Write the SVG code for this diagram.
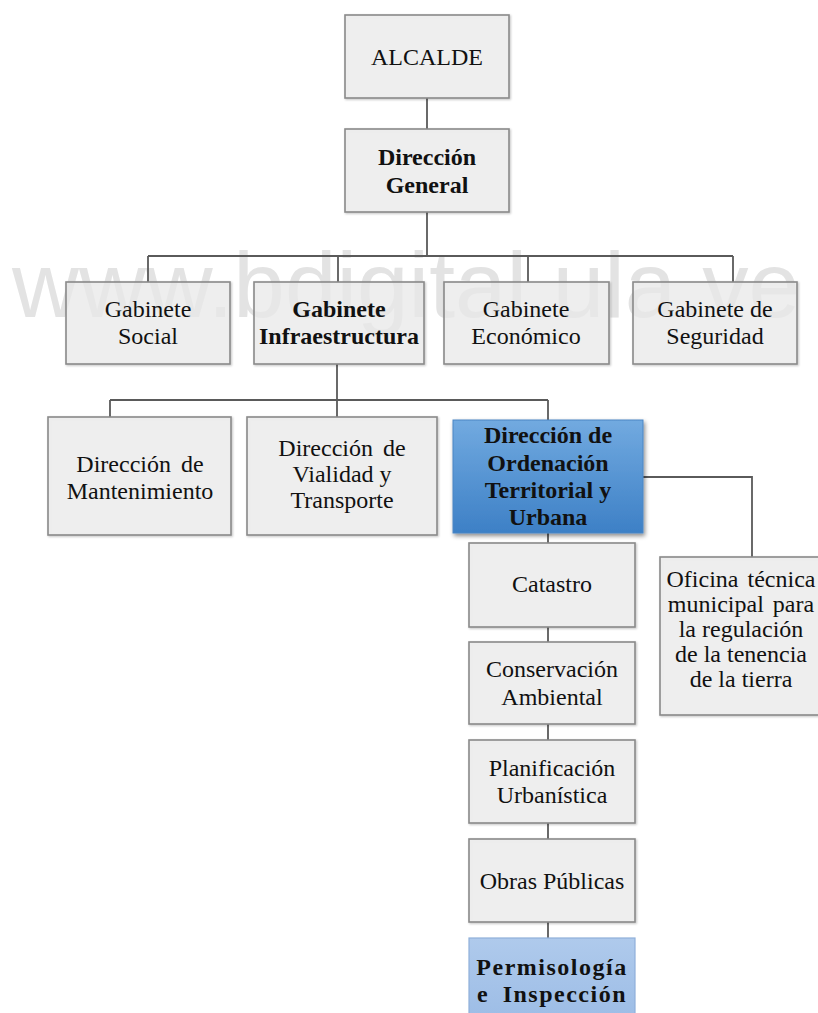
<svg xmlns="http://www.w3.org/2000/svg" width="818" height="1013" viewBox="0 0 818 1013">
<style>
.box{fill:#efefef;fill-opacity:0.7;stroke:#8a8a8a;stroke-width:1.6;filter:url(#sh)}
.t{font-family:"Liberation Serif","Times New Roman",serif;font-size:24px;fill:#111;text-anchor:middle}
.b{font-weight:bold}
.c{fill:none;stroke:#5a5a5a;stroke-width:1.8}
.wm{font-family:"Liberation Sans",Arial,sans-serif;font-size:92px;fill:#e3e3e3}
</style>
<defs>
<linearGradient id="blue" x1="0" y1="0" x2="0" y2="1">
<stop offset="0" stop-color="#72aae0"/>
<stop offset="1" stop-color="#3d80c6"/>
</linearGradient>
<linearGradient id="lblue" x1="0" y1="0" x2="0" y2="1">
<stop offset="0" stop-color="#afcaec"/>
<stop offset="1" stop-color="#9dbde6"/>
</linearGradient>
<filter id="sh" x="-10%" y="-10%" width="125%" height="125%">
<feDropShadow dx="1" dy="1" stdDeviation="0.8" flood-color="#000" flood-opacity="0.25"/>
</filter>
<filter id="sh2" x="-10%" y="-10%" width="125%" height="125%">
<feDropShadow dx="1.5" dy="2.5" stdDeviation="2" flood-color="#000" flood-opacity="0.45"/>
</filter>
</defs>
<rect width="818" height="1013" fill="#fff"/>
<text class="wm" x="12" y="317" textLength="788" lengthAdjust="spacingAndGlyphs">www.bdigital.ula.ve</text>
<g id="connectors">
<path class="c" d="M427 98V129M427 212V256M148 256H733M148 256V282M338 256V282M528 256V282M733 256V282"/>
<path class="c" d="M337 364V417M110 400H548M110 400V417M548 400V420"/>
<path class="c" d="M643 477H752V557"/>
<path class="c" d="M548 533V543M548 627V642M548 724V740M548 823V839M548 922V938"/>
</g>
<g id="alcalde"><rect class="box" x="345" y="15" width="164" height="83"/><text class="t" x="427" y="65">ALCALDE</text></g>
<g id="direccion-general"><rect class="box" x="345" y="129" width="164" height="83"/><text class="t b" x="427" y="165">Dirección</text><text class="t b" x="427" y="193">General</text></g>
<g id="gabinete-social"><rect class="box" x="66" y="282" width="164" height="82"/><text class="t" x="148" y="317">Gabinete</text><text class="t" x="148" y="344">Social</text></g>
<g id="gabinete-infraestructura"><rect class="box" x="254" y="282" width="170" height="82"/><text class="t b" x="339" y="317">Gabinete</text><text class="t b" x="339" y="344">Infraestructura</text></g>
<g id="gabinete-economico"><rect class="box" x="444" y="282" width="165" height="82"/><text class="t" x="526" y="317">Gabinete</text><text class="t" x="526" y="344">Económico</text></g>
<g id="gabinete-seguridad"><rect class="box" x="633" y="282" width="164" height="82"/><text class="t" x="715" y="317">Gabinete de</text><text class="t" x="715" y="344">Seguridad</text></g>
<g id="direccion-mantenimiento"><rect class="box" x="48" y="417" width="183" height="118"/><text class="t" x="140" y="472" word-spacing="4">Dirección de</text><text class="t" x="140" y="499">Mantenimiento</text></g>
<g id="direccion-vialidad"><rect class="box" x="247" y="417" width="190" height="118"/><text class="t" x="342" y="456" word-spacing="4">Dirección de</text><text class="t" x="342" y="482">Vialidad y</text><text class="t" x="342" y="508">Transporte</text></g>
<g id="direccion-ordenacion"><rect x="453" y="420" width="190" height="113" fill="url(#blue)" stroke="#4a86c4" stroke-width="1" filter="url(#sh2)"/><text class="t b" x="548" y="443">Dirección de</text><text class="t b" x="548" y="471">Ordenación</text><text class="t b" x="548" y="498">Territorial y</text><text class="t b" x="548" y="525">Urbana</text></g>
<g id="oficina-tecnica"><rect class="box" x="660" y="557" width="165" height="158"/><text class="t" x="741" y="587" word-spacing="3">Oficina técnica</text><text class="t" x="741" y="612" word-spacing="3">municipal para</text><text class="t" x="741" y="637">la regulación</text><text class="t" x="741" y="662">de la tenencia</text><text class="t" x="741" y="687">de la tierra</text></g>
<g id="catastro"><rect class="box" x="469" y="543" width="166" height="84"/><text class="t" x="552" y="592">Catastro</text></g>
<g id="conservacion"><rect class="box" x="469" y="642" width="166" height="82"/><text class="t" x="552" y="677">Conservación</text><text class="t" x="552" y="705">Ambiental</text></g>
<g id="planificacion"><rect class="box" x="469" y="740" width="166" height="83"/><text class="t" x="552" y="776">Planificación</text><text class="t" x="552" y="803">Urbanística</text></g>
<g id="obras-publicas"><rect class="box" x="469" y="839" width="166" height="83"/><text class="t" x="552" y="889">Obras Públicas</text></g>
<g id="permisologia"><rect x="469" y="938" width="166" height="80" fill="url(#lblue)" stroke="#8fb0da" stroke-width="1.2"/><text class="t b" x="552" y="975" letter-spacing="1.5">Permisología</text><text class="t b" x="552" y="1002" letter-spacing="1.5" word-spacing="6">e Inspección</text></g>
</svg>
